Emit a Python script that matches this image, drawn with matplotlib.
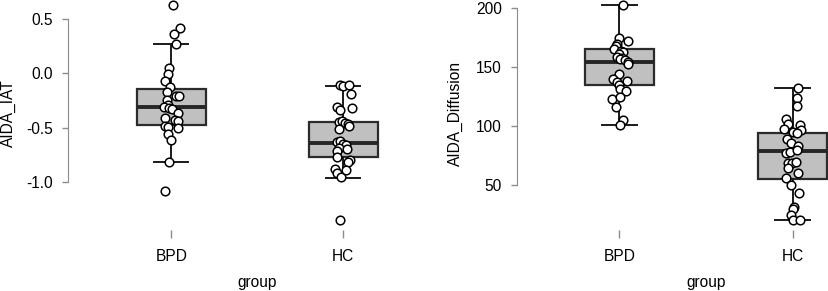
import numpy as np
import matplotlib
matplotlib.use("Agg")
import matplotlib.pyplot as plt
import matplotlib.transforms as mtransforms

plt.rcParams['font.family'] = ['Liberation Sans', 'DejaVu Sans']
plt.rcParams['font.size'] = 11.2

groups = ['BPD', 'HC']

# AIDA_IAT values, with horizontal jitter (data units)
iat_bpd = [0.631, 0.42, 0.36, 0.268, 0.054, -0.004, -0.074, -0.129, -0.175, -0.205,
           -0.208, -0.242, -0.29, -0.31, -0.32, -0.33, -0.364, -0.413, -0.432, -0.434,
           -0.48, -0.49, -0.498, -0.556, -0.608, -0.813, -1.076]
iat_bpd_jit = [0.012, 0.051, 0.017, 0.029, -0.012, -0.021, -0.035, -0.008, -0.027, 0.027,
               0.047, -0.023, -0.019, -0.040, -0.013, 0.004, 0.041, -0.035, 0.022, 0.041,
               -0.038, -0.021, 0.041, -0.021, -0.003, -0.012, -0.038]
iat_hc = [-0.11, -0.12, -0.105, -0.19, -0.31, -0.333, -0.318, -0.45, -0.44, -0.455,
          -0.465, -0.487, -0.51, -0.63, -0.624, -0.645, -0.654, -0.684, -0.694, -0.716,
          -0.767, -0.798, -0.81, -0.874, -0.914, -0.954, -0.89, -1.344]
iat_hc_jit = [-0.019, 0.001, 0.036, 0.045, -0.038, -0.019, 0.049, -0.023, -0.009, 0.010,
              0.029, 0.033, -0.023, -0.038, -0.019, 0.0, 0.016, -0.027, 0.020, -0.035,
              -0.035, 0.039, 0.026, -0.050, -0.038, -0.015, 0.016, -0.017]

# AIDA_Diffusion values
dif_bpd = [203, 174.5, 172, 170, 168, 165.5, 164, 163, 161, 158.5, 157.5, 157, 156,
           154.5, 153, 144.5, 140, 137.5, 138.5, 134.8, 131.5, 130, 122.5, 124.3, 116,
           105, 101]
dif_bpd_jit = [0.023, -0.002, 0.052, -0.012, -0.021, -0.031, 0.010, 0.021, 0.0, -0.012,
               0.014, 0.004, 0.033, 0.048, 0.052, 0.0, -0.038, -0.015, 0.046, -0.003,
               0.004, 0.039, -0.044, 0.004, -0.019, 0.023, 0.004]
dif_hc = [132, 123.7, 116.9, 106.1, 101.6, 97.1, 95.1, 100.5, 96.5, 93.7, 88.6, 85.2,
          82.9, 77.2, 78.1, 79.5, 68.2, 68.7, 69.6, 64, 59.7, 55.4, 49.7, 42.7, 31.3, 29,
          24.2, 20, 20]
dif_hc_jit = [0.032, 0.027, 0.023, -0.040, -0.025, -0.050, 0.0, 0.042, 0.046, 0.023,
              -0.035, -0.010, 0.032, -0.039, -0.016, 0.023, -0.025, -0.002, 0.019, -0.029,
              0.032, -0.039, -0.010, 0.038, 0.007, 0.002, -0.010, 0.0, 0.042]

# box statistics (whislo, q1, med, q3, whishi)
iat_stats = [(-0.813, -0.471, -0.309, -0.144, 0.269),
             (-0.960, -0.764, -0.639, -0.450, -0.114)]
dif_stats = [(100.8, 135.0, 154.3, 165.7, 203.0),
             (20.0, 54.9, 79.0, 94.0, 132.0)]

W, H = 829, 291
fig = plt.figure(figsize=(W / 100, H / 100), dpi=100)


def px_axes(x0, x1, ytop, ybot):
    return fig.add_axes([x0 / W, (H - ybot) / H, (x1 - x0) / W, (ybot - ytop) / H])


def panel(ax, stats, series, jits, ylabel, yticks, yticklabels, ylim, xlim, ylab_x):
    st = [dict(whislo=s[0], q1=s[1], med=s[2], q3=s[3], whishi=s[4], fliers=[])
          for s in stats]
    ax.bxp(st, positions=[1, 2], widths=0.4, capwidths=0.2, patch_artist=True,
           showfliers=False,
           boxprops=dict(facecolor='#c0c0c0', edgecolor='#2b2b2b', linewidth=1.6),
           medianprops=dict(color='#262626', linewidth=2.8, solid_capstyle='butt'),
           whiskerprops=dict(color='#1a1a1a', linewidth=1.4),
           capprops=dict(color='#1a1a1a', linewidth=1.4))
    for i, (vals, jit) in enumerate(zip(series, jits)):
        ax.plot(np.array(jit) + i + 1, vals, 'o', ms=6.2, mfc='white', mec='black',
                mew=1.1, clip_on=False, zorder=5)
    ax.set_xlim(*xlim)
    ax.set_ylim(*ylim)
    for s in ['top', 'right', 'bottom']:
        ax.spines[s].set_visible(False)
    ax.spines['left'].set_color('#8c8c8c')
    ax.spines['left'].set_bounds(yticks[0], yticks[-1])
    ax.set_yticks(yticks)
    ax.set_yticklabels(yticklabels)
    ax.set_xticks([1, 2])
    ax.set_xticklabels(groups)
    ax.tick_params(axis='y', length=4, width=1, color='#8c8c8c', pad=7)
    ax.tick_params(axis='x', length=6, width=1, color='#8c8c8c', pad=8)
    ax.set_ylabel(ylabel, fontsize=11.2)
    ax.yaxis.set_label_coords(ylab_x, 0.5)
    ax.patch.set_visible(False)
    trans = mtransforms.blended_transform_factory(ax.transData, fig.transFigure)
    ax.text(1.5, (H - 282) / H, 'group', transform=trans, ha='center', va='center')


ax1 = px_axes(68, 446.4, -4, 230)
panel(ax1, iat_stats, [iat_bpd, iat_hc], [iat_bpd_jit, iat_hc_jit], 'AIDA_IAT',
      [-1.0, -0.5, 0.0, 0.5], ['-1.0', '-0.5', '0.0', '0.5'],
      (-1.438, 0.711), (0.4, 2.6), (16 - 68) / 378.4)

ax2 = px_axes(517, 829, -4, 230)
panel(ax2, dif_stats, [dif_bpd, dif_hc], [dif_bpd_jit, dif_hc_jit], 'AIDA_Diffusion',
      [50, 100, 150, 200], ['50', '100', '150', '200'],
      (11.5, 210.5), (0.41, 2.21), (463 - 517) / 312)

fig.savefig('out.png', dpi=100)
